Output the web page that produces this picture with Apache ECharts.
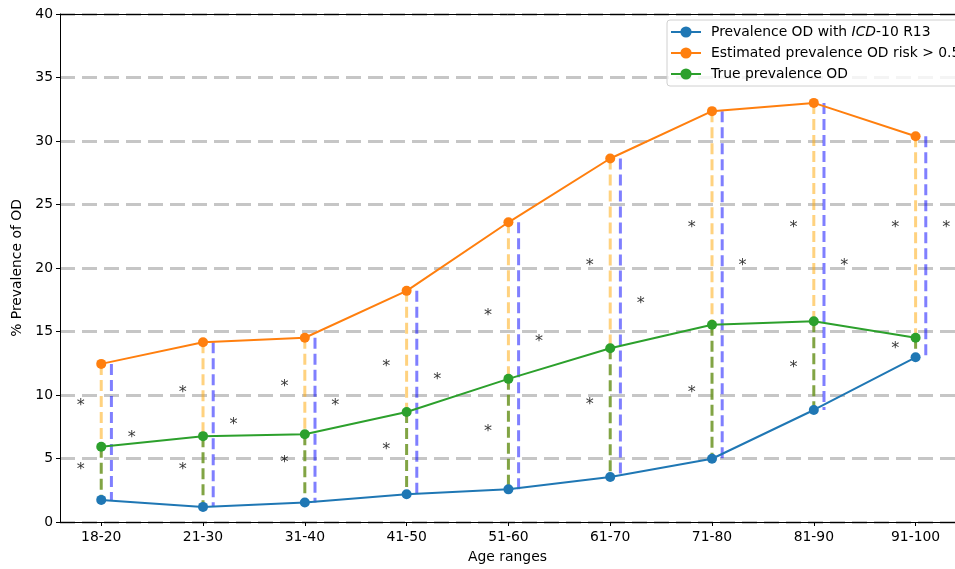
<!DOCTYPE html>
<html>
<head>
<meta charset="utf-8">
<script src="https://cdn.jsdelivr.net/npm/echarts@6/dist/echarts.min.js"></script>
<style>html,body{margin:0;padding:0;background:#fff;}#c{width:955px;height:569px;}</style>
</head>
<body>
<div id="c"></div>
<script>
const categories = ['18-20','21-30','31-40','41-50','51-60','61-70','71-80','81-90','91-100'];
const icdPrevalence = [1.74, 1.19, 1.53, 2.18, 2.57, 3.54, 4.98, 8.82, 12.97];
const estimatedPrevalence = [12.45, 14.15, 14.51, 18.2, 23.6, 28.62, 32.35, 33.0, 30.37];
const truePrevalence = [5.92, 6.76, 6.91, 8.66, 11.27, 13.68, 15.53, 15.81, 14.51];
// significance asterisk heights
const starUpperLeft = [9.29, 10.28, 10.75, 12.32, 16.34, 20.28, 23.29, 23.29, 23.29];
const starLowerLeft = [4.19, 4.19, 4.74, 5.78, 7.23, 9.31, 10.28, 12.29, 13.77];
const starRight = [6.76, 7.74, 9.29, 11.32, 14.28, 17.28, 20.28, 20.28, 23.29];
const yTicks = [0, 5, 10, 15, 20, 25, 30, 35, 40];

const FONT = 'DejaVu Sans';
const FS = 13.9;
const idx = categories.map((_, i) => i);

function vdash(data, color, z) {
  return {
    type: 'custom', silent: true, z: z,
    data: data,
    encode: { x: 0, y: [1, 2] },
    renderItem: function (params, api) {
      const p1 = api.coord([api.value(0), api.value(1)]);
      const p2 = api.coord([api.value(0), api.value(2)]);
      return { type: 'line', shape: { x1: p1[0], y1: p1[1], x2: p2[0], y2: p2[1] },
        style: { stroke: color, lineWidth: 3, lineDash: [11, 5] } };
    }
  };
}
function stars(xoff, vals) {
  return {
    type: 'scatter', silent: true, z: 5,
    data: vals.map((v, i) => [i + xoff, v]),
    symbolSize: 2, itemStyle: { color: 'rgba(0,0,0,0)' },
    label: { show: true, position: 'inside', formatter: '*', color: '#000',
      fontFamily: FONT, fontSize: 16, offset: [0, 1.5] }
  };
}
function lineSeries(name, vals, color) {
  return {
    type: 'line', name: name, z: 4,
    data: vals.map((v, i) => [i, v]),
    symbol: 'circle', symbolSize: 10,
    lineStyle: { color: color, width: 2 },
    itemStyle: { color: color },
    emphasis: { disabled: true }
  };
}

const chart = echarts.init(document.getElementById('c'), null, { renderer: 'canvas' });
chart.setOption({
  animation: false,
  backgroundColor: '#fff',
  grid: { left: 60, top: 14, width: 895, height: 510.5, show: false },
  xAxis: [{
    type: 'value', min: -0.405, max: 8.387,
    name: 'Age ranges', nameLocation: 'middle', nameGap: 28,
    nameTextStyle: { fontFamily: FONT, fontSize: FS, color: '#000' },
    axisLine: { show: true, onZero: false, lineStyle: { color: '#000', width: 1 } },
    axisTick: { show: true, customValues: idx, length: 4, lineStyle: { color: '#000' } },
    axisLabel: { customValues: idx, formatter: v => categories[Math.round(v)], fontFamily: FONT, fontSize: FS, color: '#000', margin: 8 },
    splitLine: { show: false }
  }, {
    type: 'value', position: 'top', min: -0.405, max: 8.387,
    axisLine: { show: true, onZero: false, lineStyle: { color: '#000', width: 1 } },
    axisTick: { show: false }, axisLabel: { show: false }, splitLine: { show: false }
  }],
  yAxis: {
    type: 'value', min: 0, max: 40, interval: 5,
    name: '% Prevalence of OD', nameLocation: 'middle', nameGap: 28,
    nameTextStyle: { fontFamily: FONT, fontSize: FS, color: '#000' },
    axisLine: { show: true, onZero: false, lineStyle: { color: '#000', width: 1 } },
    axisTick: { show: true, length: 4, lineStyle: { color: '#000' } },
    axisLabel: { formatter: v => String(v), fontFamily: FONT, fontSize: FS, color: '#000', margin: 7 },
    splitLine: { show: true, lineStyle: { color: 'rgba(128,128,128,0.45)', width: 3, type: [15, 7] } }
  },
  legend: {
    data: ['Prevalence OD with ICD-10 R13', 'Estimated prevalence OD risk > 0.5', 'True prevalence OD'],
    orient: 'vertical', left: 667, top: 20,
    padding: [5, 6, 5, 3], itemGap: 7, itemWidth: 30, itemHeight: 14,
    backgroundColor: 'rgba(255,255,255,0.8)', borderColor: '#d0d0d0', borderWidth: 1, borderRadius: 3,
    textStyle: { fontFamily: FONT, fontSize: FS, color: '#000', padding: [0, 0, 0, 5],
      rich: { n: { fontFamily: FONT, fontSize: FS }, i: { fontFamily: FONT, fontSize: FS, fontStyle: 'italic' } } },
    formatter: function (name) {
      if (name === 'Prevalence OD with ICD-10 R13') return '{n|Prevalence OD with }{i|ICD}{n|-10 R13}';
      return name;
    }
  },
  series: [
    vdash(idx.map(i => [i, estimatedPrevalence[i], truePrevalence[i]]), 'rgba(255,165,0,0.5)', 2),
    vdash(idx.map(i => [i, truePrevalence[i], icdPrevalence[i]]), 'rgba(107,148,35,0.85)', 2),
    vdash(idx.map(i => [i + 0.1, estimatedPrevalence[i], icdPrevalence[i]]), 'rgba(0,0,255,0.5)', 2),
    lineSeries('Prevalence OD with ICD-10 R13', icdPrevalence, '#1f77b4'),
    lineSeries('Estimated prevalence OD risk > 0.5', estimatedPrevalence, '#ff7f0e'),
    lineSeries('True prevalence OD', truePrevalence, '#2ca02c'),
    stars(-0.2, starUpperLeft),
    stars(-0.2, starLowerLeft),
    stars(0.3, starRight)
  ]
});
</script>
</body>
</html>
